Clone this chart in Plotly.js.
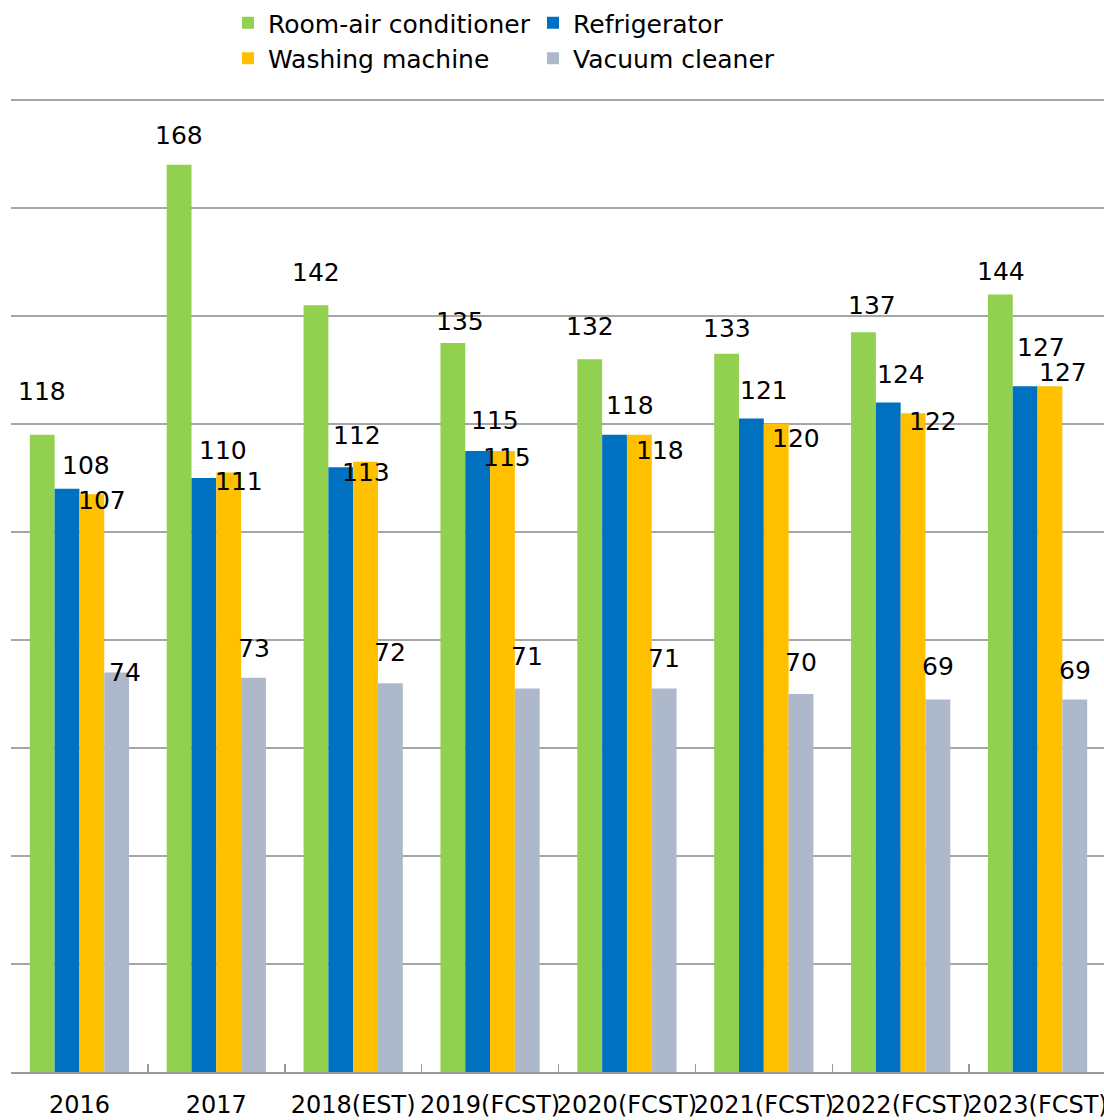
<!DOCTYPE html>
<html>
<head>
<meta charset="utf-8">
<script src="https://cdn.plot.ly/plotly-3.0.1.min.js"></script>
<style>
  html, body { margin: 0; padding: 0; overflow: hidden; background: #ffffff; }
  #chart { width: 1106px; height: 1120px; }
</style>
</head>
<body>
<div id="chart"></div>
<script>
// Shipment index by product and year
const years = ['2016', '2017', '2018(EST)', '2019(FCST)', '2020(FCST)', '2021(FCST)', '2022(FCST)', '2023(FCST)'];
const roomAir = [118, 168, 142, 135, 132, 133, 137, 144];
const refrigerator = [108, 110, 112, 115, 118, 121, 124, 127];
const washing = [107, 111, 113, 115, 118, 120, 122, 127];
const vacuum = [74, 73, 72, 71, 71, 70, 69, 69];

const seriesNames = ['Room-air conditioner', 'Refrigerator', 'Washing machine', 'Vacuum cleaner'];
const seriesValues = [roomAir, refrigerator, washing, vacuum];

// styling
const colors = ['#92D050', '#0070C0', '#FFC000', '#ADB9CA'];
const legendOf = ['legend', 'legend2', 'legend', 'legend2'];
const FONT = 'DejaVu Sans, Verdana, sans-serif';
const BARGAP = 0.275;

// value-label nudges in px: [dx from bar centre, dy above bar top]
const labelNudge = [
  [[0, 43], [0, 29], [0, 33], [7, 22], [0, 33], [0, 25], [9, 27], [1, 23]],
  [[19, 23], [19, 28], [16, 32], [17, 31], [15, 29], [13, 28], [13, 28], [16, 39]],
  [[10, -6], [10, -9], [0, -11], [5, -6], [21, -16], [20, -14], [20, -8], [13, 14]],
  [[8, 0], [0, 29], [0, 31], [0, 32], [0, 30], [0, 32], [0, 33], [0, 29]]
];

const traces = seriesValues.map((vals, s) => ({
  type: 'bar',
  name: seriesNames[s],
  x: years,
  y: vals,
  marker: { color: colors[s] },
  legend: legendOf[s],
  hoverinfo: 'x+y+name'
}));

const slot = (1 - BARGAP) / seriesValues.length;
const annotations = [];
seriesValues.forEach((vals, s) => {
  vals.forEach((v, i) => {
    annotations.push({
      xref: 'x', yref: 'y',
      x: i + (s - (seriesValues.length - 1) / 2) * slot,
      y: v,
      xshift: labelNudge[s][i][0],
      yshift: labelNudge[s][i][1],
      xanchor: 'center', yanchor: 'middle',
      text: String(v),
      showarrow: false,
      font: { family: FONT, size: 25, color: '#000000' }
    });
  });
});

const legendBase = {
  orientation: 'v',
  yref: 'container', y: 1, yanchor: 'top',
  xanchor: 'left',
  bgcolor: 'rgba(0,0,0,0)',
  borderwidth: 0,
  font: { family: FONT, size: 25, color: '#000000' },
  itemclick: false, itemdoubleclick: false
};

const layout = {
  width: 1106,
  height: 1120,
  margin: { l: 11, r: 0, t: 98, b: 48 },
  paper_bgcolor: '#ffffff',
  plot_bgcolor: '#ffffff',
  barmode: 'group',
  bargap: BARGAP,
  bargroupgap: 0,
  showlegend: true,
  legend: Object.assign({}, legendBase, { x: (228 - 11) / 1095 }),
  legend2: Object.assign({}, legendBase, { x: (533 - 11) / 1095 }),
  xaxis: {
    type: 'category',
    showgrid: false,
    showline: true,
    linecolor: '#9a9a9a',
    linewidth: 1.5,
    ticks: 'inside',
    tickson: 'boundaries',
    ticklen: 8,
    tickwidth: 1.5,
    tickcolor: '#9a9a9a',
    tickangle: 0,
    tickfont: { family: FONT, size: 24, color: '#000000' },
    ticklabelstandoff: 11,
    fixedrange: true
  },
  yaxis: {
    range: [0, 180.37],
    tick0: 0,
    dtick: 20,
    showticklabels: false,
    ticks: '',
    showgrid: true,
    gridcolor: '#a6a6a6',
    gridwidth: 1.5,
    zeroline: false,
    showline: false,
    fixedrange: true
  },
  annotations: annotations,
  font: { family: FONT, color: '#000000' }
};

Plotly.newPlot('chart', traces, layout, { displayModeBar: false, staticPlot: true });
</script>
</body>
</html>
